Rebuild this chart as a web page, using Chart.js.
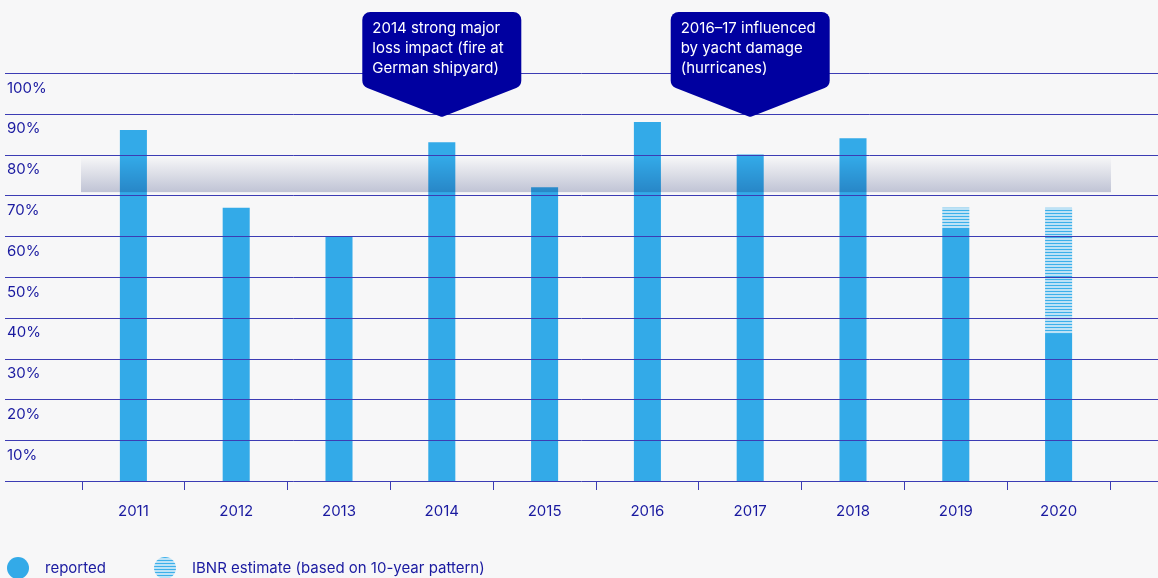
<!DOCTYPE html>
<html>
<head>
<meta charset="utf-8">
<script src="https://cdn.jsdelivr.net/npm/chart.js@4.4.1/dist/chart.umd.min.js"></script>
<style>
  html, body { margin: 0; padding: 0; background: #f7f7f8; }
  #wrap { position: relative; width: 1158px; height: 578px; overflow: hidden; }
  canvas { display: block; }
  .legend { position: absolute; top: 558px; height: 22px; line-height: 22px; font: 15px Inter, sans-serif; color: #1a1aa0; white-space: nowrap; }
  .dot { position: absolute; top: 557px; width: 22px; height: 22px; border-radius: 50%; }
  .dot.rep { left: 7px; background: #33aae8; }
  .dot.ibnr { left: 154px; background: repeating-linear-gradient(to bottom, #3cb0ea 0 1px, #bde2f6 1px 3px); }
</style>
</head>
<body>
<div id="wrap">
  <canvas id="chart"></canvas>
  <span class="dot rep"></span><span class="legend" style="left:45px">reported</span>
  <span class="dot ibnr"></span><span class="legend" style="left:192px">IBNR estimate (based on 10-year pattern)</span>
</div>
<script>
// Data (in %)
const years = ['2011', '2012', '2013', '2014', '2015', '2016', '2017', '2018', '2019', '2020'];
const reported = [86, 67, 60, 83, 72, 88, 80, 84, 62, 36];
const ibnr = [0, 0, 0, 0, 0, 0, 0, 0, 5, 31];
const bandRange = [70.8, 79.5];
const calloutYears = ['2014', '2017'];
const calloutLines = [
    ['2014 strong major', 'loss impact (fire at', 'German shipyard)'],
    ['2016\u201317 influenced', 'by yacht damage', '(hurricanes)']
];

const navy = '#1a1aa0';
const lineColor = '#3c3cb4';
const font = { family: 'Inter', size: 15 };

// striped fill for the IBNR part
function stripes() {
    const c = document.createElement('canvas');
    c.width = 4; c.height = 3;
    const p = c.getContext('2d');
    p.fillStyle = '#bde2f6';
    p.fillRect(0, 0, 4, 3);
    p.fillStyle = '#3cb0ea';
    p.fillRect(0, 0, 4, 1);
    return p.createPattern(c, 'repeat');
}

const overlay = {
    id: 'overlay',
    beforeDraw(chart) {
        const { ctx } = chart;
        ctx.save();
        ctx.fillStyle = '#f7f7f8';
        ctx.fillRect(0, 0, chart.width, chart.height);
        ctx.restore();
    },
    afterDatasetsDraw(chart) {
        const { ctx, chartArea, scales: { y } } = chart;
        ctx.save();
        // target corridor band, multiplied over the bars
        const top = y.getPixelForValue(bandRange[1]);
        const bot = y.getPixelForValue(bandRange[0]);
        const g = ctx.createLinearGradient(0, top, 0, bot);
        g.addColorStop(0, '#ffffff');
        g.addColorStop(1, '#c6cadb');
        ctx.globalCompositeOperation = 'multiply';
        ctx.fillStyle = g;
        ctx.fillRect(chartArea.left - 1, top, chartArea.width + 2, bot - top);
        ctx.globalCompositeOperation = 'source-over';
        // full-width horizontal lines
        ctx.strokeStyle = lineColor;
        ctx.lineWidth = 1;
        y.ticks.forEach(t => {
            const py = Math.round(y.getPixelForValue(t.value)) + 0.5;
            ctx.beginPath();
            ctx.moveTo(5, py);
            ctx.lineTo(chart.width, py);
            ctx.stroke();
        });
        ctx.restore();
    },
    afterDraw(chart) {
        const { ctx, scales: { x, y } } = chart;
        const y100 = y.getPixelForValue(100);
        ctx.save();
        calloutYears.forEach((yr, i) => {
            const cx = x.getPixelForValue(years.indexOf(yr));
            const w = 159, r = 8;
            const l = cx - w / 2, rt = cx + w / 2;
            const top = y100 - 61, side = y100 + 13, tip = y100 + 44;
            ctx.fillStyle = '#0000a0';
            ctx.beginPath();
            ctx.moveTo(l + r, top);
            ctx.arcTo(rt, top, rt, side, r);
            ctx.arcTo(rt, side, cx, tip, r);
            ctx.arcTo(cx, tip, l, side, 4);
            ctx.arcTo(l, side, l, top, r);
            ctx.arcTo(l, top, rt, top, r);
            ctx.closePath();
            ctx.fill();
            ctx.fillStyle = '#ffffff';
            ctx.font = '15px Inter';
            ctx.textBaseline = 'middle';
            calloutLines[i].forEach((s, j) => ctx.fillText(s, l + 10, top + 16 + j * 20));
        });
        ctx.restore();
    }
};

const ctx = document.getElementById('chart').getContext('2d');
new Chart(ctx, {
    type: 'bar',
    data: {
        labels: years,
        datasets: [
            { label: 'reported', data: reported, backgroundColor: '#33aae8' },
            { label: 'IBNR estimate (based on 10-year pattern)', data: ibnr, backgroundColor: stripes() }
        ]
    },
    options: {
        responsive: true,
        maintainAspectRatio: false,
        animation: false,
        layout: { padding: { left: 7, right: 48, top: 73, bottom: 0 } },
        datasets: { bar: { categoryPercentage: 1, barPercentage: 0.263 } },
        plugins: { legend: { display: false }, tooltip: { enabled: false } },
        scales: {
            x: {
                stacked: true,
                grid: { drawOnChartArea: false, tickLength: 9, color: lineColor, offset: true },
                border: { display: false },
                ticks: { color: navy, font: font, padding: 12 },
                afterFit: s => { s.height = 97; }
            },
            y: {
                stacked: true,
                min: 0,
                max: 100,
                grid: { display: false },
                border: { display: false },
                ticks: {
                    stepSize: 10,
                    crossAlign: 'far',
                    labelOffset: 15,
                    color: navy,
                    font: font,
                    callback: v => v ? v + '%' : ''
                },
                afterFit: s => { s.width = 75; }
            }
        }
    },
    plugins: [overlay]
});
</script>
</body>
</html>
